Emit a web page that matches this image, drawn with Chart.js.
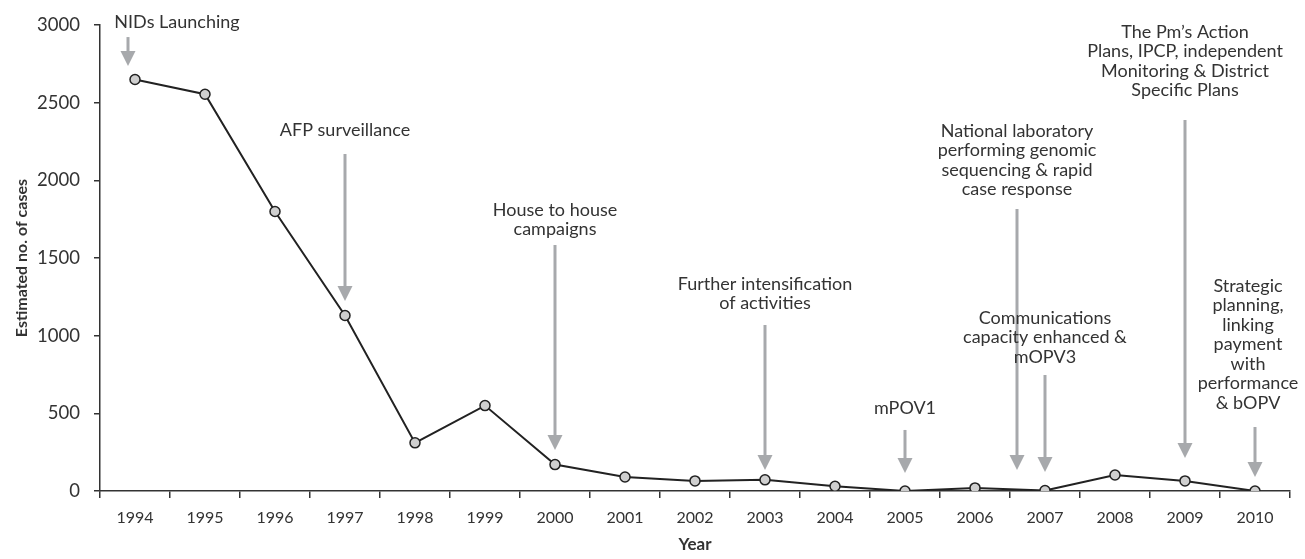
<!DOCTYPE html>
<html>
<head>
<meta charset="utf-8">
<script src="https://cdn.jsdelivr.net/npm/chart.js@4"></script>
<style>
  body { margin: 0; background: #fff; }
  #wrap { width: 1305px; height: 559px; }
</style>
</head>
<body>
<div id="wrap"><canvas id="cases"></canvas></div>
<script>
var years = ['1994', '1995', '1996', '1997', '1998', '1999', '2000', '2001', '2002',
             '2003', '2004', '2005', '2006', '2007', '2008', '2009', '2010'];
var cases = [2650, 2555, 1800, 1130, 310, 550, 170, 90, 65, 72, 30, 0, 20, 3, 103, 65, 0];
var yTicks = [0, 500, 1000, 1500, 2000, 2500, 3000];

// milestones: text lines, where the arrow sits (category index) and its top/tip in case units
var noteLines = [
    ['NIDs Launching'],
    ['AFP surveillance'],
    ['House to house', 'campaigns'],
    ['Further intensification', 'of activities'],
    ['mPOV1'],
    ['National laboratory', 'performing genomic', 'sequencing & rapid', 'case response'],
    ['Communications', 'capacity enhanced &', 'mOPV3'],
    ['The Pm\u2019s Action', 'Plans, IPCP, independent', 'Monitoring & District', 'Specific Plans'],
    ['Strategic', 'planning,', 'linking', 'payment', 'with', 'performance', '& bOPV']
];
var noteArrowAt = [-0.1, 3, 6, 9, 11, 12.6, 13, 15, 16];
var noteTextAt = [0.6, 3, 6, 9, 11, 12.6, 13, 15, 15.9];
var noteTextTop = [3020, 2325, 1809, 1333, 534, 2318, 1114, 2955, 1320];
var noteArrowTop = [2923, 2170, 1584, 1069, 393, 1816, 747, 2389, 412];
var noteArrowTip = [2737, 1223, 264, 135, 116, 135, 122, 212, 90];

var fontFamily = 'Lato, "Open Sans", sans-serif';

var milestonePlugin = {
    id: 'milestones',
    afterDraw: function (chart) {
        var ctx = chart.ctx;
        var xs = chart.scales.x;
        var ys = chart.scales.y;
        ctx.save();
        for (var i = 0; i < noteLines.length; i++) {
            var ax = xs.getPixelForValue(noteArrowAt[i]);
            var top = ys.getPixelForValue(noteArrowTop[i]);
            var tip = ys.getPixelForValue(noteArrowTip[i]);
            var head = 15;
            ctx.strokeStyle = '#a7a9ac';
            ctx.fillStyle = '#a7a9ac';
            ctx.lineWidth = 3;
            ctx.beginPath();
            ctx.moveTo(ax, top);
            ctx.lineTo(ax, tip - head + 1);
            ctx.stroke();
            ctx.beginPath();
            ctx.moveTo(ax - 7.5, tip - head);
            ctx.lineTo(ax + 7.5, tip - head);
            ctx.lineTo(ax, tip);
            ctx.closePath();
            ctx.fill();

            var tx = xs.getPixelForValue(noteTextAt[i]);
            var ty = ys.getPixelForValue(noteTextTop[i]);
            ctx.fillStyle = '#333';
            ctx.font = '18px ' + fontFamily;
            ctx.textAlign = 'center';
            ctx.textBaseline = 'middle';
            noteLines[i].forEach(function (line, k) {
                ctx.fillText(line, tx, ty + k * 19.5);
            });
        }
        ctx.restore();
    }
};

new Chart(document.getElementById('cases'), {
    type: 'line',
    data: {
        labels: years,
        datasets: [{
            data: cases,
            borderColor: '#222',
            borderWidth: 2,
            pointBackgroundColor: '#cfcfcf',
            pointBorderColor: '#222',
            pointBorderWidth: 1.5,
            pointRadius: 5,
            tension: 0
        }]
    },
    options: {
        responsive: true,
        maintainAspectRatio: false,
        animation: false,
        layout: { padding: { top: 25, right: 15, left: 0, bottom: 0 } },
        plugins: {
            legend: { display: false },
            tooltip: { enabled: false }
        },
        scales: {
            x: {
                type: 'category',
                offset: true,
                grid: {
                    offset: true,
                    drawOnChartArea: false,
                    drawTicks: true,
                    tickLength: 7,
                    color: '#333',
                    lineWidth: 1.5
                },
                border: { color: '#333', width: 1.5 },
                ticks: {
                    color: '#333',
                    padding: 10,
                    maxRotation: 0,
                    autoSkip: false,
                    font: { family: fontFamily, size: 16 }
                },
                title: {
                    display: true,
                    text: 'Year',
                    color: '#333',
                    padding: { top: 8, bottom: 4 },
                    font: { family: fontFamily, size: 17, weight: 'bold' }
                },
                afterFit: function (scale) { scale.height = 68; }
            },
            y: {
                min: 0,
                max: 3000,
                afterBuildTicks: function (scale) {
                    scale.ticks = yTicks.map(function (v) { return { value: v }; });
                },
                grid: {
                    drawOnChartArea: false,
                    drawTicks: true,
                    tickLength: 6,
                    color: '#333',
                    lineWidth: 1.5
                },
                border: { color: '#333', width: 1.5 },
                ticks: {
                    color: '#333',
                    padding: 14,
                    font: { family: fontFamily, size: 18.5 },
                    callback: function (v) { return String(v); }
                },
                title: {
                    display: true,
                    text: 'Estimated no. of cases',
                    color: '#333',
                    padding: { top: 12, bottom: 0 },
                    font: { family: fontFamily, size: 16, weight: 'bold' }
                },
                afterFit: function (scale) { scale.width = 100; }
            }
        }
    },
    plugins: [milestonePlugin]
});
</script>
</body>
</html>
